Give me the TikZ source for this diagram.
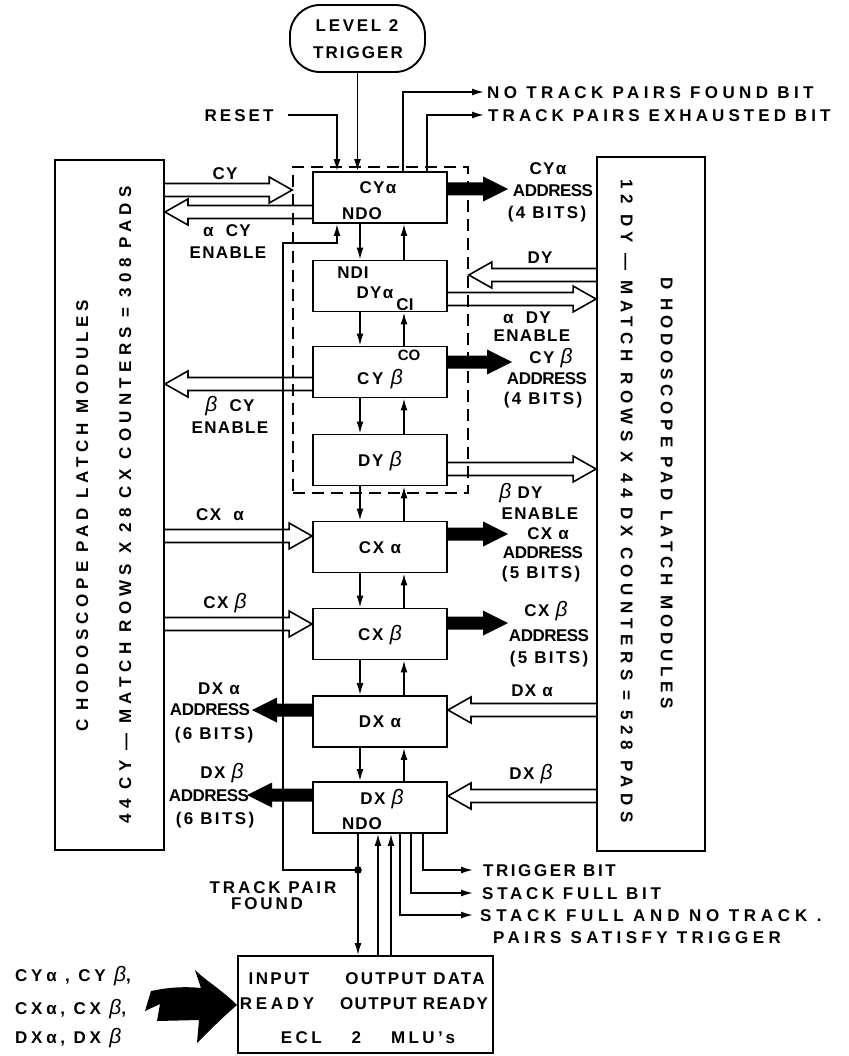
\documentclass[tikz,border=0pt]{standalone}
\usepackage{fontspec}
\setmainfont{Liberation Sans}
\usetikzlibrary{calc,arrows.meta}
\newcommand\bb{{\fontsize{21}{21}\selectfont\mdseries\itshape β}}
\newcommand\hollowarr[2]{%
  \draw[hol] let \p1=#1, \p2=#2, \p3=($#2!23pt!#1$) in
    (\x1,\y1+6.5pt) -- (\x3,\y1+6.5pt) -- (\x3,\y1+13pt) -- (\x2,\y1)
    -- (\x3,\y1-13pt) -- (\x3,\y1-6.5pt) -- (\x1,\y1-6.5pt);}
\newcommand\blkarr[2]{%
  \fill let \p1=#1, \p2=#2, \p3=($#2!25pt!#1$) in
    (\x1,\y1+6.5pt) -- (\x3,\y1+6.5pt) -- (\x3,\y1+12.5pt) -- (\x2,\y1)
    -- (\x3,\y1-12.5pt) -- (\x3,\y1-6.5pt) -- (\x1,\y1-6.5pt) -- cycle;}
\tikzset{
  box/.style={draw, line width=1.9pt, minimum width=134pt, minimum height=51pt, inner sep=0pt,
    text height=12.2pt, text depth=0pt, font=\fontsize{17}{19}\selectfont\bfseries\addfontfeature{LetterSpace=10}},
  bigbox/.style={draw, line width=1.9pt, inner sep=0pt},
  ln/.style={line width=1.7pt},
  arr/.style={ln, -{Latex[length=12pt,width=7pt]}},
  hol/.style={line width=1.6pt, line join=miter},
  lb/.style={inner sep=0pt, text height=12.2pt, text depth=0pt,
    font=\fontsize{17}{19}\selectfont\bfseries\addfontfeature{LetterSpace=#1}},
  lb/.default=8,
  dashbox/.style={draw, line width=1.6pt, dash pattern=on 12pt off 7pt, inner sep=0pt}
}
\begin{document}
\begin{tikzpicture}[x=1pt,y=-1pt]
\useasboundingbox (0,0) rectangle (848,1056);
% big side boxes
\node[bigbox, minimum width=109pt, minimum height=690pt] (lbox) at (109.5,505) {};
\node[bigbox, minimum width=108pt, minimum height=694pt] (rbox) at (651,504) {};
\node[lb=28, rotate=90] at (82,516) {C HODOSCOPE PAD LATCH MODULES};
\node[lb=31, rotate=90] at (125,505) {44 CY — MATCH ROWS X 28 CX COUNTERS = 308 PADS};
\node[lb=28, rotate=-90] at (667,493) {D HODOSCOPE PAD LATCH MODULES};
\node[lb=32, rotate=-90] at (627,501) {12 DY — MATCH ROWS X 44 DX COUNTERS = 528 PADS};
% level 2 trigger
\node[draw, line width=1.9pt, rounded corners=30pt, minimum width=135pt, minimum height=67pt] (lvl) at (357.5,38.5) {};
\node[lb=16] at (357,25) {LEVEL 2};
\node[lb=12] at (358,52) {TRIGGER};
% dashed group
\node[dashbox, minimum width=175pt, minimum height=326pt] (grp) at (380.5,330) {};
% module boxes
\node[box] (cya) at (380,197.5) {};
\node[box] (dya) at (380,286) {};
\node[box] (cyb) at (380,372) {};
\node[box] (dyb) at (380,460) {DY \bb};
\node[box] (cxa) at (380,547) {CX α};
\node[box] (cxb) at (380,634) {CX \bb};
\node[box] (dxa) at (380,721.5) {DX α};
\node[box] (dxb) at (380,807.5) {};
\node[draw, line width=1.9pt, minimum width=255pt, minimum height=97pt] (ecl) at (365.5,1004.5) {};
% texts inside boxes
\node[lb=8] at (378,187) {CYα};
\node[lb=6] at (362,213) {NDO};
\node[lb=6] at (353,272) {NDI};
\node[lb=8] at (375,292) {DYα};
\node[lb=2] at (405,304) {CI};
\node[lb=2, font=\fontsize{15}{17}\selectfont\bfseries] at (409,354) {CO};
\node[lb=16] at (380,378) {CY \bb};
\node[lb=8] at (382,798) {DX \bb};
\node[lb=6] at (362,823) {NDO};
% between-box arrows
\foreach \a/\b in {cya/dya,dya/cyb,cyb/dyb,dyb/cxa,cxa/cxb,cxb/dxa,dxa/dxb}{
  \draw[arr] (360,0 |- \a.south) -- (360,0 |- \b.north);
  \draw[arr] (404,0 |- \b.north) -- (404,0 |- \a.south);
}
% top signals
\node[lb=18] (reset) at (239,115) {RESET};
\coordinate (rs) at (288,115);
\draw[arr] (rs) -- (337,115) -- (337,0 |- cya.north);
\draw[arr] (lvl.south) -- (lvl.south |- cya.north);
\coordinate (ntp) at (484,92);
\coordinate (tpe) at (484,115);
\draw[arr] (403,0 |- cya.north) -- (403,92) -- (ntp);
\draw[arr] (427,0 |- cya.north) -- (427,115) -- (tpe);
\node[lb=26, anchor=west] at (487,92) {NO TRACK PAIRS FOUND BIT};
\node[lb=24, anchor=west] at (488,115) {TRACK PAIRS EXHAUSTED BIT};
% hollow arrows left
\hollowarr{(lbox.east |- 0,190)}{(grp.west |- 0,190)}
\hollowarr{(cya.west |- 0,212)}{(lbox.east |- 0,212)}
\hollowarr{(cyb.west |- 0,384)}{(lbox.east |- 0,384)}
\hollowarr{(lbox.east |- 0,536)}{(cxa.west |- 0,536)}
\hollowarr{(lbox.east |- 0,624)}{(cxb.west |- 0,624)}
% hollow arrows right
\hollowarr{(rbox.west |- 0,275)}{(grp.east |- 0,275)}
\hollowarr{(dya.east |- 0,299)}{(rbox.west |- 0,299)}
\hollowarr{(dyb.east |- 0,469)}{(rbox.west |- 0,469)}
\hollowarr{(rbox.west |- 0,710)}{(dxa.east |- 0,710)}
\hollowarr{(rbox.west |- 0,796)}{(dxb.east |- 0,796)}
% black address arrows
\coordinate (aya) at (508,189);
\coordinate (ayb) at (512,362);
\coordinate (axa) at (508,534);
\coordinate (axb) at (508,623);
\coordinate (adxa) at (252,710);
\coordinate (adxb) at (247,795);
\blkarr{(cya.east |- aya)}{(aya)}
\blkarr{(cyb.east |- ayb)}{(ayb)}
\blkarr{(cxa.east |- axa)}{(axa)}
\blkarr{(cxb.east |- axb)}{(axb)}
\blkarr{(dxa.west |- adxa)}{(adxa)}
\blkarr{(dxb.west |- adxb)}{(adxb)}
% left labels
\node[lb] at (225,173) {CY};
\node[lb] at (227,230) {α\ \ CY};
\node[lb] at (228,252) {ENABLE};
\node[lb] at (230,405) {\bb\ \ CY};
\node[lb] at (230,427) {ENABLE};
\node[lb] at (220,514) {CX\ \ α};
\node[lb] at (225,602) {CX\ \bb};
\node[lb] at (219,688) {DX α};
\node[lb=-3] at (210,709) {ADDRESS};
\node[lb=14] at (214,733) {(6 BITS)};
\node[lb] at (222,772) {DX \bb};
\node[lb=-3] at (209,795) {ADDRESS};
\node[lb=14] at (215,818) {(6 BITS)};
% right labels
\node[lb] at (548,168) {CYα};
\node[lb=-3] at (553,190) {ADDRESS};
\node[lb=14] at (547,212) {(4 BITS)};
\node[lb] at (540,257) {DY};
\node[lb] at (527,317) {α\ \ DY};
\node[lb] at (532,335) {ENABLE};
\node[lb] at (551,357) {CY \bb};
\node[lb=-3] at (547,378) {ADDRESS};
\node[lb=14] at (543,398) {(4 BITS)};
\node[lb] at (521,492) {\bb\ DY};
\node[lb] at (540,513) {ENABLE};
\node[lb] at (548,533) {CX α};
\node[lb=-3] at (543,552) {ADDRESS};
\node[lb=14] at (541,572) {(5 BITS)};
\node[lb] at (546,610) {CX \bb};
\node[lb=-3] at (549,635) {ADDRESS};
\node[lb=14] at (549,657) {(5 BITS)};
\node[lb] at (532,690) {DX α};
\node[lb] at (531,773) {DX \bb};
% bottom signals
\coordinate (tp) at (358,870);
\draw[arr] (358,0 |- dxb.south) -- (358,0 |- ecl.north);
\fill (tp) circle (3.8pt);
\draw[arr] (tp) -- (283,870) -- (283,243) -- (337,243) -- (337,0 |- cya.south);
\draw[arr] (378,0 |- ecl.north) -- (378,0 |- dxb.south);
\draw[arr] (391,0 |- ecl.north) -- (391,0 |- dxb.south);
\coordinate (tb) at (473,870);
\coordinate (sf) at (473,893);
\coordinate (sn) at (473,915);
\draw[arr] (423,0 |- dxb.south) -- (423,870) -- (tb);
\draw[arr] (411,0 |- dxb.south) -- (411,893) -- (sf);
\draw[arr] (400,0 |- dxb.south) -- (400,915) -- (sn);
\node[lb=15, anchor=west] at (483,870) {TRIGGER BIT};
\node[lb=22, anchor=west] at (482,893) {STACK FULL BIT};
\node[lb=28, anchor=west] at (480,915) {STACK FULL AND NO TRACK .};
\node[lb=26, anchor=west] at (493,937) {PAIRS SATISFY TRIGGER};
\node[lb=17] at (273,887) {TRACK PAIR};
\node[lb=17] at (267,903) {FOUND};
% ECL box text
\node[lb=14] at (279,978) {INPUT};
\node[lb=13] at (415,978) {OUTPUT DATA};
\node[lb=22] at (277,1003) {READY};
\node[lb=8] at (414,1003) {OUTPUT READY};
\node[lb=20] at (368,1037) {ECL\hspace{30pt}2\hspace{30pt}MLU’s};
% bottom-left inputs
\node[lb=22, anchor=west] at (15,975) {CYα , CY \bb,};
\node[lb=22, anchor=west] at (15,1008) {CXα, CX \bb,};
\node[lb=22, anchor=west] at (15,1037) {DXα, DX \bb};
\fill (ecl.west |- 0,1005) .. controls (222,990) and (205,980) .. (195,970)
  -- (201,988) .. controls (182,986) and (165,988) .. (151,991)
  -- (145,1011) -- (160,1004) -- (157,1021) -- (199,1020) -- (197,1043)
  .. controls (210,1030) and (224,1016) .. (ecl.west |- 0,1005) -- cycle;
\end{tikzpicture}
\end{document}
